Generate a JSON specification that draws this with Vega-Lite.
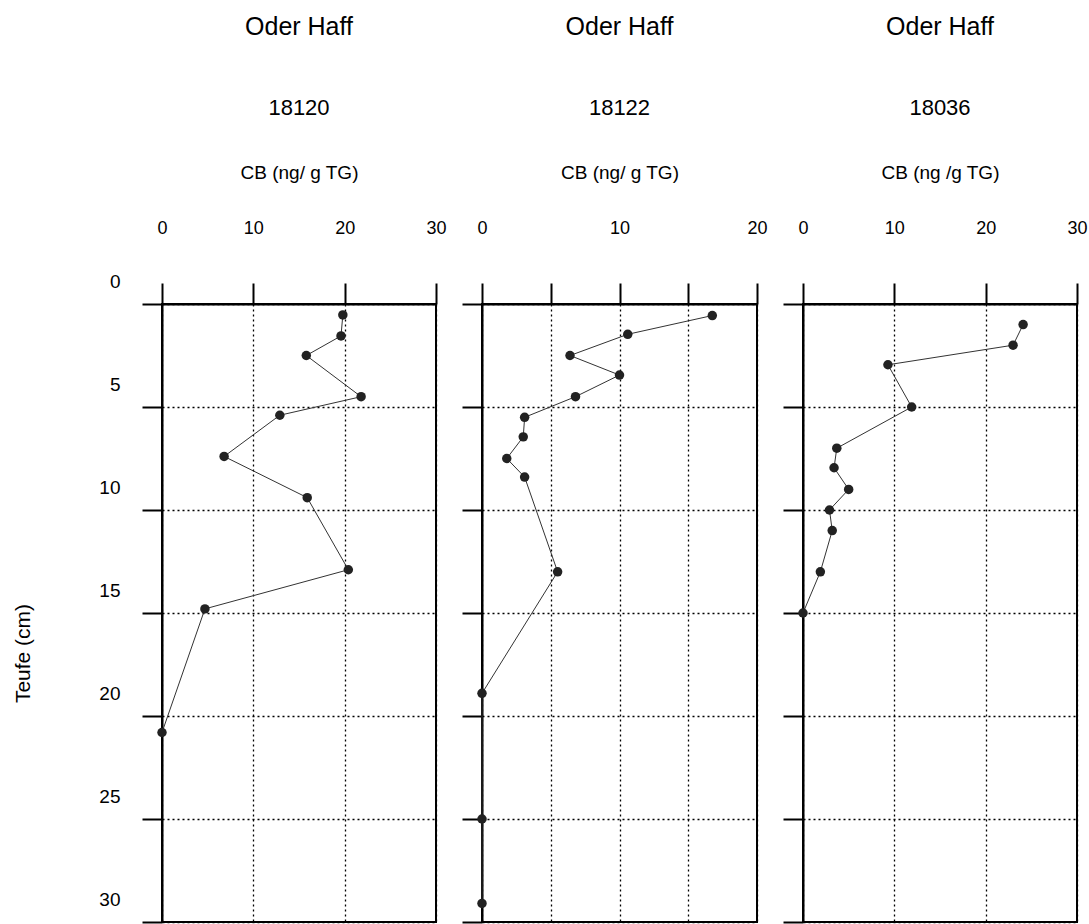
{
  "$schema": "https://vega.github.io/schema/vega-lite/v6.json",
  "background": "white",
  "padding": {"left": 11, "top": 14, "right": 0, "bottom": 0},
  "bounds": "flush",
  "spacing": 46,
  "data": {
    "values": [
      {"core": "18120", "depth": 0.53, "cb": 19.8},
      {"core": "18120", "depth": 1.55, "cb": 19.6},
      {"core": "18120", "depth": 2.5, "cb": 15.8},
      {"core": "18120", "depth": 4.5, "cb": 21.8},
      {"core": "18120", "depth": 5.4, "cb": 12.9},
      {"core": "18120", "depth": 7.4, "cb": 6.8},
      {"core": "18120", "depth": 9.4, "cb": 15.9},
      {"core": "18120", "depth": 12.9, "cb": 20.4},
      {"core": "18120", "depth": 14.8, "cb": 4.7},
      {"core": "18120", "depth": 20.8, "cb": 0},
      {"core": "18122", "depth": 0.56, "cb": 16.75},
      {"core": "18122", "depth": 1.47, "cb": 10.6},
      {"core": "18122", "depth": 2.5, "cb": 6.4},
      {"core": "18122", "depth": 3.45, "cb": 10.0},
      {"core": "18122", "depth": 4.5, "cb": 6.8},
      {"core": "18122", "depth": 5.5, "cb": 3.1},
      {"core": "18122", "depth": 6.45, "cb": 3.0},
      {"core": "18122", "depth": 7.5, "cb": 1.8},
      {"core": "18122", "depth": 8.4, "cb": 3.1},
      {"core": "18122", "depth": 13.0, "cb": 5.5},
      {"core": "18122", "depth": 18.9, "cb": 0},
      {"core": "18122", "depth": 25.0, "cb": 0},
      {"core": "18122", "depth": 29.1, "cb": 0},
      {"core": "18036", "depth": 1.0, "cb": 24.1},
      {"core": "18036", "depth": 2.0, "cb": 23.0},
      {"core": "18036", "depth": 2.95, "cb": 9.3},
      {"core": "18036", "depth": 5.0, "cb": 11.9},
      {"core": "18036", "depth": 7.0, "cb": 3.7},
      {"core": "18036", "depth": 7.95, "cb": 3.4},
      {"core": "18036", "depth": 9.0, "cb": 5.0},
      {"core": "18036", "depth": 10.0, "cb": 2.9},
      {"core": "18036", "depth": 11.0, "cb": 3.2},
      {"core": "18036", "depth": 13.0, "cb": 1.9},
      {"core": "18036", "depth": 15.0, "cb": 0}
    ]
  },
  "hconcat": [
    {
      "width": 274,
      "height": 618,
      "title": {"text": "Oder Haff", "subtitle": "18120"},
      "transform": [{"filter": "datum.core === '18120'"}],
      "encoding": {
        "x": {"field": "cb", "type": "quantitative", "scale": {"domain": [0, 30], "nice": false},
              "axis": {"orient": "top", "title": "CB (ng/ g TG)", "values": [0, 10, 20, 30]}},
        "y": {"field": "depth", "type": "quantitative", "scale": {"domain": [0, 30], "reverse": true, "nice": false},
              "axis": {"values": [0, 5, 10, 15, 20, 25, 30], "title": "Teufe (cm)", "titleX": -129, "titleY": 349, "titleAngle": -90, "titleBaseline": "bottom", "titleAlign": "center"}}
      },
      "layer": [
        {"mark": {"type": "line", "color": "#333333", "strokeWidth": 1}, "encoding": {"order": {"field": "depth", "type": "quantitative"}}},
        {"mark": {"type": "point", "filled": true, "size": 90, "color": "#222222", "opacity": 1}}
      ]
    },
    {
      "width": 275,
      "height": 618,
      "title": {"text": "Oder Haff", "subtitle": "18122"},
      "transform": [{"filter": "datum.core === '18122'"}],
      "encoding": {
        "x": {"field": "cb", "type": "quantitative", "scale": {"domain": [0, 20], "nice": false},
              "axis": {"orient": "top", "title": "CB (ng/ g TG)", "values": [0, 5, 10, 15, 20], "labelExpr": "datum.value % 10 === 0 ? datum.label : ''"}},
        "y": {"field": "depth", "type": "quantitative", "scale": {"domain": [0, 30], "reverse": true, "nice": false},
              "axis": {"values": [0, 5, 10, 15, 20, 25, 30], "title": null, "labels": false}}
      },
      "layer": [
        {"mark": {"type": "line", "color": "#333333", "strokeWidth": 1}, "encoding": {"order": {"field": "depth", "type": "quantitative"}}},
        {"mark": {"type": "point", "filled": true, "size": 90, "color": "#222222", "opacity": 1}}
      ]
    },
    {
      "width": 274,
      "height": 618,
      "title": {"text": "Oder Haff", "subtitle": "18036"},
      "transform": [{"filter": "datum.core === '18036'"}],
      "encoding": {
        "x": {"field": "cb", "type": "quantitative", "scale": {"domain": [0, 30], "nice": false},
              "axis": {"orient": "top", "title": "CB (ng /g TG)", "values": [0, 10, 20, 30]}},
        "y": {"field": "depth", "type": "quantitative", "scale": {"domain": [0, 30], "reverse": true, "nice": false},
              "axis": {"values": [0, 5, 10, 15, 20, 25, 30], "title": null, "labels": false}}
      },
      "layer": [
        {"mark": {"type": "line", "color": "#333333", "strokeWidth": 1}, "encoding": {"order": {"field": "depth", "type": "quantitative"}}},
        {"mark": {"type": "point", "filled": true, "size": 90, "color": "#222222", "opacity": 1}}
      ]
    }
  ],
  "config": {
    "font": "Liberation Sans",
    "view": {"stroke": "black", "strokeWidth": 2},
    "axis": {
      "domainColor": "black", "domainWidth": 2,
      "tickColor": "black", "tickWidth": 2,
      "grid": true, "gridColor": "black", "gridDash": [2, 3], "gridWidth": 1.3, "gridOpacity": 1,
      "labelColor": "black", "labelFont": "Liberation Sans", "labelFlush": false, "labelOverlap": false, "labelBound": false,
      "titleFont": "Liberation Sans", "titleColor": "black", "titleFontWeight": "normal"
    },
    "axisX": {"tickSize": 21, "labelPadding": 46, "labelFontSize": 18, "titleFontSize": 19, "titlePadding": 37, "labelAngle": 0},
    "axisY": {"tickSize": 20, "labelPadding": 22, "labelFontSize": 19, "labelOffset": -23, "titleFontSize": 21},
    "title": {
      "fontSize": 25, "fontWeight": "normal", "color": "black", "font": "Liberation Sans",
      "subtitleFontSize": 22, "subtitleColor": "black", "subtitleFont": "Liberation Sans",
      "subtitlePadding": 58, "offset": 44, "frame": "group", "anchor": "middle"
    }
  }
}
